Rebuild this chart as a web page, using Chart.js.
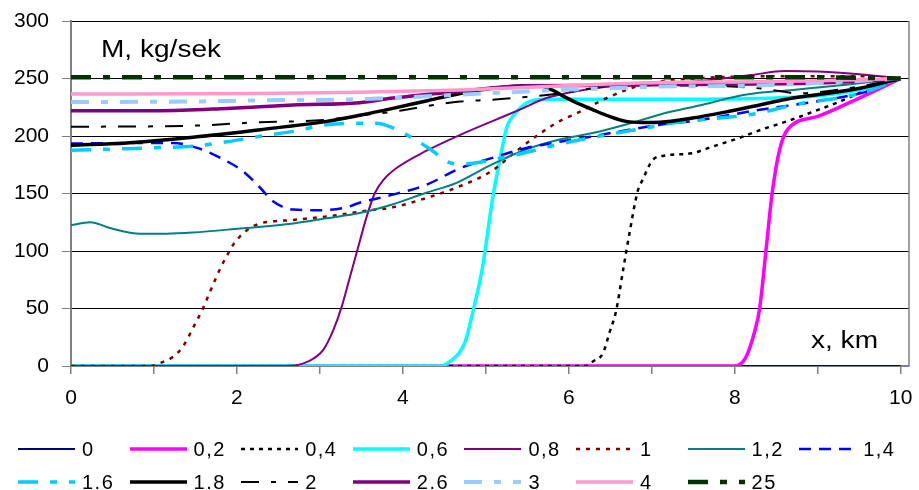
<!DOCTYPE html>
<html><head><meta charset="utf-8">
<script src="https://cdn.jsdelivr.net/npm/chart.js@4.4.0/dist/chart.umd.min.js"></script>
<style>
html,body{margin:0;padding:0;background:#fff;}
#wrap{position:relative;width:919px;height:490px;overflow:hidden;font-family:"Liberation Sans",Arial,sans-serif;}
#c{position:absolute;left:0;top:0;}
.ann{position:absolute;font-size:23px;line-height:23px;color:#000;transform:scaleX(1.22);transform-origin:0 0;white-space:nowrap;}
.lgl{position:absolute;}
.lgt{position:absolute;font-size:20px;line-height:20px;letter-spacing:1.5px;white-space:nowrap;color:#000;}
</style></head>
<body><div id="wrap"><canvas id="c" width="919" height="490" style="width:919px;height:490px"></canvas>
<div class="ann" style="left:101px;top:38px">M, kg/sek</div>
<div class="ann" style="left:811px;top:329px">x, km</div>
<div id="legend"></div>
</div>
<script>
// ---- data ----
const seriesNames = ['0','0,2','0,4','0,6','0,8','1','1,2','1,4','1.6','1.8','2','2.6','3','4','25'];
const xTickValues = [0,1,2,3,4,5,6,7,8,9,10];
const xTickLabels = ['0','','2','','4','','6','','8','','10'];
const yTickValues = [0,50,100,150,200,250,300];

const x_0 = [0, 10];
const y_0 = [0, 0];
const x_02 = [0, 8.0, 8.13, 8.24, 8.3, 8.38, 8.45, 8.54, 8.64, 9.0, 9.5, 10];
const y_02 = [0, 0, 7, 30, 50, 103, 150, 188, 206, 217, 233, 250];
const x_04 = [0, 6.2, 6.29, 6.41, 6.49, 6.57, 6.66, 6.73, 6.83, 6.89, 7.01, 7.16, 7.48, 7.74, 8.04, 8.34, 8.64, 8.94, 9.27, 9.59, 10];
const y_04 = [0, 0, 4, 11, 29, 48, 86, 115, 152, 162, 179, 183, 185, 191, 198, 206, 213, 221, 230, 240, 250];
const x_06 = [0, 4.45, 4.57, 4.75, 4.84, 4.96, 5.08, 5.19, 5.25, 5.37, 5.53, 5.73, 6.5, 7.5, 8.5, 9.0, 9.5, 10];
const y_06 = [0, 0, 4, 21, 46, 86, 145, 187, 207, 221, 230, 232, 232, 232, 233, 235, 240, 250];
const x_08 = [0, 2.6, 2.86, 3.04, 3.16, 3.26, 3.36, 3.46, 3.56, 3.66, 3.78, 3.92, 4.28, 4.69, 5.08, 5.41, 5.73, 6.09, 6.49, 7.0, 7.6, 8.2, 8.6, 9.0, 9.6, 10];
const y_08 = [0, 0, 4, 14, 31, 51, 77, 103, 129, 150, 163, 172, 187, 201, 213, 223, 233, 239, 243, 244.5, 248, 253, 256.5, 256, 253, 250];
const x_1 = [0, 0.95, 1.09, 1.23, 1.35, 1.47, 1.59, 1.69, 1.80, 1.88, 1.95, 2.04, 2.16, 2.28, 2.67, 3.08, 3.56, 3.88, 4.28, 4.64, 5.08, 5.37, 5.65, 5.89, 6.13, 6.37, 6.69, 6.98, 7.5, 8.5, 9.5, 10];
const y_1 = [0, 0, 3, 8, 17, 33, 50, 67, 85, 96, 105, 113, 120, 124, 127, 130, 135, 138, 146, 155, 170, 187, 202, 213, 221, 230, 240, 246, 250, 252, 252, 250];
const x_12 = [0, 0.23, 0.47, 0.83, 1.15, 1.47, 2.04, 2.68, 3.08, 3.48, 3.88, 4.28, 4.64, 5.08, 5.49, 5.89, 6.29, 6.69, 7.10, 7.6, 8.14, 8.70, 9.34, 10];
const y_12 = [122.5, 125, 120, 115, 115, 116, 119.6, 124, 128.5, 133, 140.7, 150.7, 159, 175.5, 188.5, 197, 202.6, 210, 218.7, 227, 236, 240, 244.6, 250];
const x_14 = [0, 1.23, 1.55, 1.80, 2.07, 2.28, 2.43, 2.68, 3.0, 3.32, 3.48, 3.88, 4.28, 4.69, 5.08, 5.49, 5.89, 6.29, 6.69, 7.10, 7.5, 8.30, 9.10, 9.59, 10];
const y_14 = [193.5, 194, 189, 181, 169.5, 155, 143.5, 136, 135.5, 138, 142, 149, 157.5, 172, 181, 189.6, 195, 199.7, 205, 209.8, 213, 222.8, 231.4, 238.6, 250];
const x_16 = [0, 0.67, 1.07, 1.47, 1.88, 2.28, 2.68, 3.08, 3.40, 3.68, 3.88, 4.12, 4.36, 4.52, 4.69, 5.29, 5.89, 6.49, 7.01, 7.22, 8.30, 8.70, 9.51, 10];
const y_16 = [187.6, 189, 190, 191, 195, 199.7, 204, 209.8, 211, 211, 207, 198, 187, 178, 175.5, 182.5, 193, 201.5, 208, 211, 220, 227, 237, 250];
const x_18 = [0, 0.67, 1.47, 2.28, 3.08, 3.48, 3.88, 4.28, 4.69, 5.08, 5.49, 5.65, 5.8, 5.95, 6.09, 6.29, 6.49, 6.69, 6.89, 7.10, 7.49, 7.90, 8.30, 8.70, 9.10, 9.51, 10];
const y_18 = [192, 194, 199, 205.5, 212.7, 218, 224, 230.5, 237, 241.5, 243.8, 243.8, 240, 234, 229, 222.8, 217, 212.7, 211.8, 212, 215.6, 221, 227, 233, 237, 241.5, 250];
const x_2 = [0, 1.47, 2.28, 3.08, 3.48, 3.88, 4.28, 4.69, 5.08, 5.49, 5.89, 6.29, 6.69, 7.2, 7.97, 8.3, 8.55, 8.75, 9.0, 9.5, 10];
const y_2 = [208, 209, 212, 214, 218, 221, 226, 230, 231.5, 234, 237, 241.5, 244.4, 244, 243, 241.5, 239, 237, 238, 243, 250];
const x_26 = [0, 1.07, 1.88, 2.68, 3.48, 3.88, 4.69, 5.49, 6.3, 7.0, 8.0, 9.0, 9.5, 10];
const y_26 = [222, 222, 224, 227, 229, 233, 239, 243.8, 244, 244.5, 245, 246, 247.5, 250];
const x_3 = [0, 1.47, 2.28, 3.48, 4.69, 5.89, 6.69, 7.1, 8.0, 9.0, 10];
const y_3 = [229.5, 230, 231, 232, 236, 240, 242, 243, 243.5, 246, 250];
const x_4 = [0, 2.28, 3.48, 4.69, 5.89, 7.1, 8.0, 9.0, 10];
const y_4 = [236.5, 237, 238, 240, 243.5, 246.5, 247, 248, 250];
const x_25 = [0, 9, 10];
const y_25 = [251, 251, 250];

const seriesX = [x_0, x_02, x_04, x_06, x_08, x_1, x_12, x_14, x_16, x_18, x_2, x_26, x_3, x_4, x_25];
const seriesY = [y_0, y_02, y_04, y_06, y_08, y_1, y_12, y_14, y_16, y_18, y_2, y_26, y_3, y_4, y_25];

// ---- styles ----
const styles = [
  {color:'#000080', width:2,   dash:[]},
  {color:'#FF00FF', width:3.5, dash:[]},
  {color:'#000000', width:2.5, dash:[4,5]},
  {color:'#00FFFF', width:3.5, dash:[]},
  {color:'#800080', width:2,   dash:[]},
  {color:'#800000', width:2.5, dash:[4,6]},
  {color:'#008080', width:2,   dash:[]},
  {color:'#0000FF', width:2.5, dash:[12,8]},
  {color:'#00CCFF', width:3.5, dash:[20,12,7,12]},
  {color:'#000000', width:3.5, dash:[]},
  {color:'#000000', width:2,   dash:[18,12,5,12]},
  {color:'#800080', width:3.5, dash:[]},
  {color:'#99CCFF', width:4,   dash:[18,12,7,12]},
  {color:'#FF99CC', width:3.5, dash:[]},
  {color:'#003300', width:4.5, dash:[20,12,7,12]}
];

const FONT = '"Liberation Sans", Arial, sans-serif';

const datasets = seriesNames.map((name, i) => ({
  label: name,
  data: seriesX[i].map((x, j) => ({x: x, y: seriesY[i][j]})),
  borderColor: styles[i].color,
  backgroundColor: styles[i].color,
  borderWidth: styles[i].width,
  borderDash: styles[i].dash,
  borderCapStyle: 'butt',
  borderJoinStyle: 'round',
  pointRadius: 0,
  pointHoverRadius: 0,
  fill: false,
  cubicInterpolationMode: 'monotone',
  order: 100 - i
}));

const rightBorder = {
  id: 'rightBorder',
  beforeDatasetsDraw(chart) {
    const a = chart.chartArea, ctx = chart.ctx;
    ctx.save();
    ctx.strokeStyle = '#808080';
    ctx.lineWidth = 1.5;
    ctx.beginPath();
    ctx.moveTo(a.right, a.top);
    ctx.lineTo(a.right, a.bottom);
    ctx.stroke();
    ctx.restore();
  }
};

new Chart(document.getElementById('c'), {
  type: 'line',
  data: {datasets},
  plugins: [rightBorder],
  options: {
    responsive: false,
    animation: false,
    layout: {padding: {left: 0, right: 10, top: 21, bottom: 0}},
    plugins: {legend: {display: false}, tooltip: {enabled: false}},
    scales: {
      x: {
        type: 'linear', min: 0, max: 10.1,
        afterBuildTicks: s => { s.ticks = xTickValues.map(v => ({value: v})); },
        afterFit: s => { s.height = 124; s.paddingLeft = 0; s.paddingRight = 0; },
        ticks: {
          callback: (v, idx) => xTickLabels[idx],
          autoSkip: false, maxRotation: 0, color: '#000', padding: 12,
          font: {size: 21, family: FONT}
        },
        grid: {drawOnChartArea: false, drawTicks: true, tickLength: 8, color: '#808080', lineWidth: 1.5},
        border: {color: '#808080', width: 2}
      },
      y: {
        min: 0, max: 300,
        afterBuildTicks: s => { s.ticks = yTickValues.map(v => ({value: v})); },
        afterFit: s => { s.width = 71; s.paddingTop = 0; s.paddingBottom = 0; },
        ticks: {color: '#000', padding: 13, font: {size: 21, family: FONT}},
        grid: {color: '#000', lineWidth: 1, tickLength: 9, tickColor: '#808080'},
        border: {color: '#808080', width: 2}
      }
    }
  }
});

// ---- HTML legend (grid like the original) ----
const legend = document.getElementById('legend');
const colStart = 18, colStep = 111.6, lineLen = 57, textOffset = 64;
const rowLineY = [449, 482], rowTextTop = [439, 472];
seriesNames.forEach((name, i) => {
  const row = i < 8 ? 0 : 1;
  const col = i < 8 ? i : i - 8;
  const x0 = colStart + col * colStep;
  const st = styles[i];
  const svgNS = 'http://www.w3.org/2000/svg';
  const svg = document.createElementNS(svgNS, 'svg');
  svg.setAttribute('width', lineLen);
  svg.setAttribute('height', 10);
  svg.setAttribute('class', 'lgl');
  svg.style.left = x0 + 'px';
  svg.style.top = (rowLineY[row] - 5) + 'px';
  const ln = document.createElementNS(svgNS, 'line');
  ln.setAttribute('x1', 0); ln.setAttribute('x2', lineLen);
  ln.setAttribute('y1', 5); ln.setAttribute('y2', 5);
  ln.setAttribute('stroke', st.color);
  ln.setAttribute('stroke-width', st.width);
  if (st.dash.length) ln.setAttribute('stroke-dasharray', st.dash.join(' '));
  svg.appendChild(ln);
  legend.appendChild(svg);
  const t = document.createElement('div');
  t.className = 'lgt';
  t.textContent = name;
  t.style.left = (x0 + textOffset) + 'px';
  t.style.top = rowTextTop[row] + 'px';
  legend.appendChild(t);
});
</script>
</body></html>
